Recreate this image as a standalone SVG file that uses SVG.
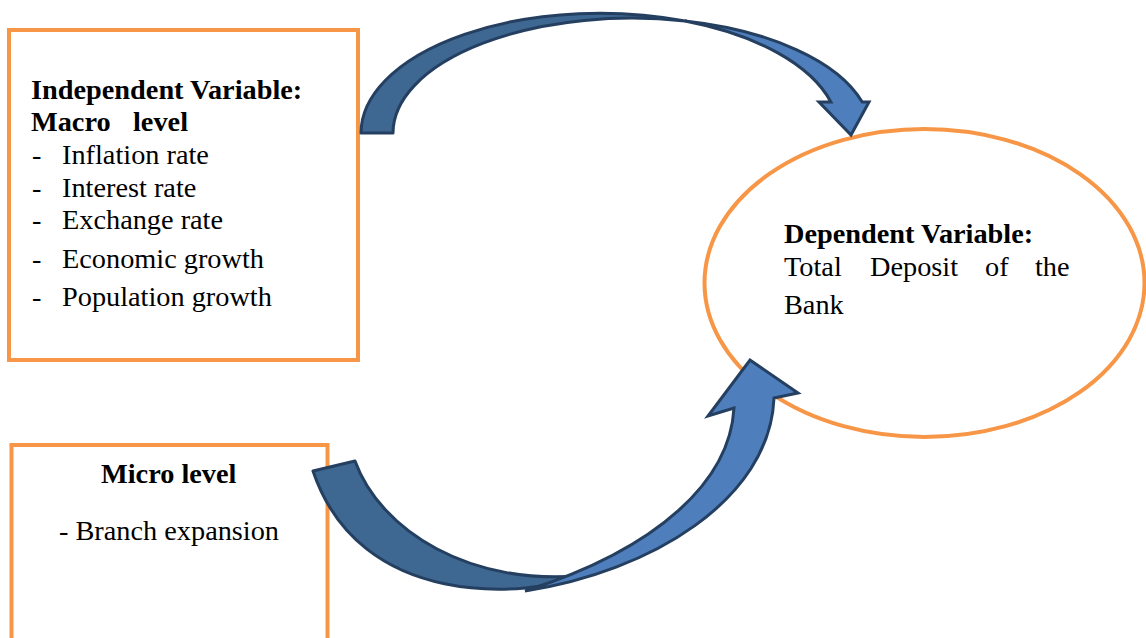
<svg xmlns="http://www.w3.org/2000/svg" width="1146" height="638" viewBox="0 0 1146 638">
<style>
.box{fill:#ffffff;stroke:#F79646;stroke-width:4}
.t{font-family:"Liberation Serif","Times New Roman",serif;font-size:28.3px;fill:#000}
.b{font-weight:bold}
.back{fill:#3E6892;stroke:#243F60;stroke-width:3;stroke-linejoin:round}
.front{fill:#4E7EBB;stroke:#243F60;stroke-width:3;stroke-linejoin:miter}
</style>
<rect x="0" y="0" width="1146" height="638" fill="#ffffff"/>
<g id="node-independent">
<rect class="box" x="9" y="30" width="349" height="330"/>
<text class="t b" x="31" y="99">Independent Variable:</text>
<text class="t b" y="131"><tspan x="31">Macro</tspan><tspan x="133">level</tspan></text>
<text class="t" x="32" y="164">-</text><text class="t" x="62" y="164">Inflation rate</text>
<text class="t" x="32" y="197">-</text><text class="t" x="62" y="197">Interest rate</text>
<text class="t" x="32" y="229">-</text><text class="t" x="62" y="229">Exchange rate</text>
<text class="t" x="32" y="268">-</text><text class="t" x="62" y="268">Economic growth</text>
<text class="t" x="32" y="306">-</text><text class="t" x="62" y="306">Population growth</text>
</g>
<g id="node-micro">
<rect class="box" x="11.5" y="445" width="316" height="220"/>
<text class="t b" x="101" y="483">Micro level</text>
<text class="t" x="59" y="540">- Branch expansion</text>
</g>
<g id="node-dependent">
<ellipse cx="924.5" cy="283" rx="220" ry="154" fill="#ffffff" stroke="#F79646" stroke-width="4"/>
<text class="t b" x="784" y="243">Dependent Variable:</text>
<text class="t" y="276"><tspan x="784">Total</tspan><tspan x="870">Deposit</tspan><tspan x="985">of</tspan><tspan x="1035">the</tspan></text>
<text class="t" x="784" y="314">Bank</text>
</g>
<g id="connectors">
<g id="arrow-macro">
<path class="back" d="M 361,133 A 239 120 0 0 1 685,21 A 239 115 0 0 0 393,133 Z"/>
<path class="front" d="M 685,21 A 239 115 0 0 1 862.2,102 L 869,102 L 851,135 L 819,102 L 830.9,102 A 239 120 0 0 0 685,21 Z"/>
</g>
<g id="arrow-micro">
<path class="back" d="M 313,471 L 355,461 C 380,530 470,588 588,575 C 525,598 360,610 313,471 Z"/>
<path class="front" d="M 525,591 C 650,572 770,500 774,398 L 798,393 L 750,360 L 708,416 L 734,408 C 730,480 660,548 525,591 Z"/>
</g>
</g>
</svg>
